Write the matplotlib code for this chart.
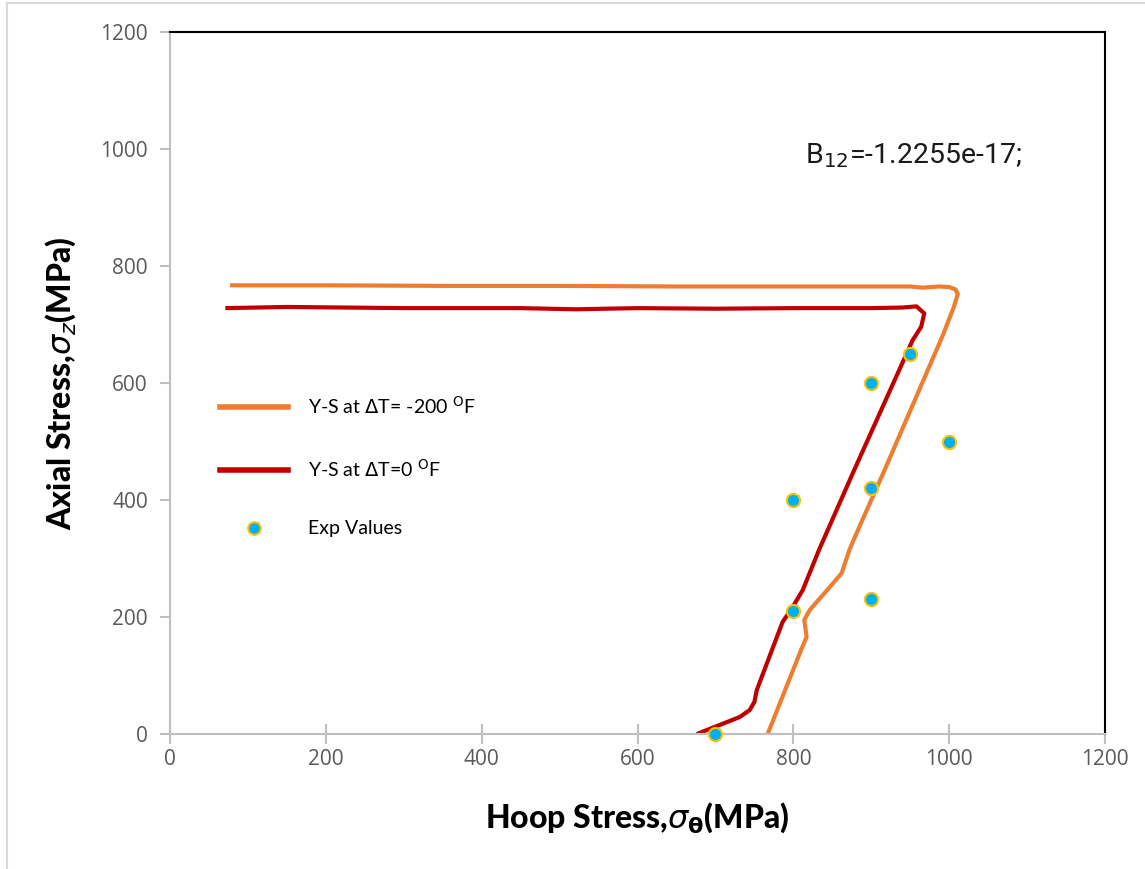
import numpy as np
import matplotlib.pyplot as plt
from matplotlib.lines import Line2D

# yield surface at dT = -200 F (orange)
hoop_m200 = [77, 200, 350, 500, 650, 800, 900, 950, 966, 987, 1000, 1008, 1011, 1006,
             991, 917, 880, 872, 862, 846, 821, 814, 817, 810, 767]
axial_m200 = [767, 767, 766, 766, 765, 765, 765, 765, 763, 765, 764, 760, 752, 730,
              679, 451, 340, 315, 275, 250, 212, 195, 166, 144, 0]

# yield surface at dT = 0 F (red)
hoop_0 = [71, 150, 300, 450, 520, 600, 700, 800, 900, 940, 958, 968, 964, 953,
          878, 833, 812, 799, 786, 753, 750, 744, 731, 676]
axial_0 = [728, 730, 728, 728, 726, 728, 727, 728, 728, 729, 731, 719, 696, 673,
           451, 315, 246, 217, 191, 75, 55, 41, 29, 0]

# experiment
exp_hoop = [700, 800, 800, 900, 900, 900, 950, 1000]
exp_axial = [0, 400, 210, 600, 420, 230, 650, 500]

ticks = [0, 200, 400, 600, 800, 1000, 1200]

plt.rcParams['font.family'] = ['Open Sans', 'DejaVu Sans']
plt.rcParams['mathtext.fontset'] = 'dejavusans'

fig = plt.figure(figsize=(11.45, 8.69), dpi=100)
ax = fig.add_axes([0.1485, 0.1553, 0.8166, 0.8079])

ax.plot(hoop_m200, axial_m200, color='#ed7d31', lw=3, solid_capstyle='butt')
ax.plot(hoop_0, axial_0, color='#c00000', lw=3, solid_capstyle='butt')
ax.scatter(exp_hoop, exp_axial, s=90, c='#00b0f0', edgecolors='#ffc000',
           linewidths=1.5, zorder=5, clip_on=False)

ax.set_xlim(0, 1200)
ax.set_ylim(0, 1200)
ax.set_xticks(ticks)
ax.set_yticks(ticks)

for s in ['left', 'bottom']:
    ax.spines[s].set_color('#bfbfbf')
    ax.spines[s].set_linewidth(1.5)
for s in ['top', 'right']:
    ax.spines[s].set_color('black')
    ax.spines[s].set_linewidth(1.5)
ax.tick_params(axis='x', direction='inout', length=15, width=1.5, color='#bfbfbf',
               labelsize=15, labelcolor='#595959', pad=3)
ax.tick_params(axis='y', direction='out', length=7, width=1.5, color='#bfbfbf',
               labelsize=15, labelcolor='#595959', pad=9)

lab_font = ['Lato', 'DejaVu Sans']
ax.set_xlabel(r'Hoop Stress,$\mathit{\sigma}_{\mathbf{\theta}}$(MPa)',
              fontsize=23, fontweight='black', family=lab_font, labelpad=22)
ax.set_ylabel(r'Axial Stress,$\mathit{\sigma}_{z}$(MPa)',
              fontsize=23, fontweight='black', family=lab_font, labelpad=16)

ax.text(815, 975, r'B$_{12}$=-1.2255e-17;', fontsize=20.5, family=['Roboto', 'DejaVu Sans'],
        color='#1a1a1a')

handles = [Line2D([], [], color='#ed7d31', lw=4),
           Line2D([], [], color='#c00000', lw=4),
           Line2D([], [], ls='none', marker='o', markersize=9, markerfacecolor='#00b0f0',
                  markeredgecolor='#ffc000', markeredgewidth=1.5)]
labels = [r'Y-S at $\Delta$T= -200 $^{\mathrm{O}}$F',
          r'Y-S at $\Delta$T=0 $^{\mathrm{O}}$F',
          'Exp Values']
ax.legend(handles, labels, loc='upper left', bbox_to_anchor=(0.035, 0.508), frameon=False,
          labelspacing=2.1, handlelength=3.5, handletextpad=1.0,
          prop={'family': ['Lato', 'DejaVu Sans'], 'size': 14})

# outer frame of the picture
fig.add_artist(Line2D([7 / 1145, 7 / 1145], [0, 1 - 3 / 869], color='#d9d9d9', lw=1.5,
                      transform=fig.transFigure))
fig.add_artist(Line2D([7 / 1145, 1], [1 - 3 / 869, 1 - 3 / 869], color='#d9d9d9', lw=1.5,
                      transform=fig.transFigure))

fig.savefig('out.png', dpi=100)
